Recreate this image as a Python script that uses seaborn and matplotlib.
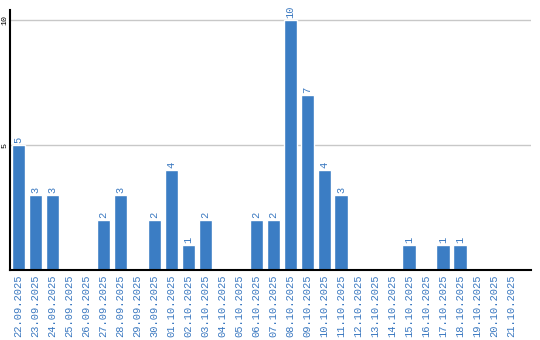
import matplotlib
matplotlib.use("Agg")
import matplotlib.pyplot as plt
import seaborn as sns
import pandas as pd

dates = ["22.09.2025", "23.09.2025", "24.09.2025", "25.09.2025", "26.09.2025",
         "27.09.2025", "28.09.2025", "29.09.2025", "30.09.2025", "01.10.2025",
         "02.10.2025", "03.10.2025", "04.10.2025", "05.10.2025", "06.10.2025",
         "07.10.2025", "08.10.2025", "09.10.2025", "10.10.2025", "11.10.2025",
         "12.10.2025", "13.10.2025", "14.10.2025", "15.10.2025", "16.10.2025",
         "17.10.2025", "18.10.2025", "19.10.2025", "20.10.2025", "21.10.2025"]
counts = [5, 3, 3, 0, 0, 2, 3, 0, 2, 4, 1, 2, 0, 0, 2, 2, 10, 7, 4, 3,
          0, 0, 0, 1, 0, 1, 1, 0, 0, 0]
yticks = [5, 10]

bar_color = "#3b7dc4"
text_color = "#3a78c0"
mono = "Liberation Mono"

df = pd.DataFrame({"date": dates, "count": counts})

sns.set_style("white")
fig = plt.figure(figsize=(5.4, 3.4), dpi=100)
ax = fig.add_axes([10/540, 70/340, 521/540, 260/340])

sns.barplot(data=df, x="date", y="count", color=bar_color, width=0.82,
            saturation=1, ax=ax, order=dates)

ax.set_xlim(-0.5, 30.15)
ax.set_ylim(0, 10.4)
ax.set_yticks(yticks)
ax.set_yticklabels([str(v) for v in yticks], rotation=90, va="center",
                   fontsize=6, family=mono, color="black")
ax.grid(axis="y", color="#c8c8c8", linewidth=1)
ax.set_axisbelow(True)
ax.tick_params(axis="y", length=0, pad=0.8)
ax.tick_params(axis="x", length=0, pad=3)
ax.set_xticks(range(len(dates)))
ax.set_xticklabels(dates, rotation=90, fontsize=7.5, family=mono,
                   color=text_color, va="top", ha="center")
ax.set_xlabel("")
ax.set_ylabel("")

for s in ["top", "right"]:
    ax.spines[s].set_visible(False)
for s in ["left", "bottom"]:
    ax.spines[s].set_color("black")
    ax.spines[s].set_linewidth(1.5)

for i, v in enumerate(counts):
    if v > 0:
        ax.text(i, v + 0.08, str(v), rotation=90, ha="center", va="bottom",
                fontsize=7.5, family=mono, color=text_color)

fig.savefig("out.png", dpi=100)
